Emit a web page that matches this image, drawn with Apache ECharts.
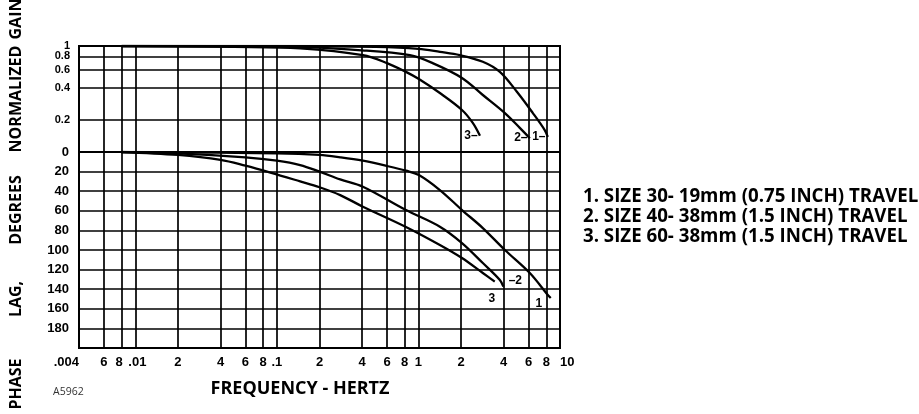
<!DOCTYPE html>
<html><head><meta charset="utf-8">
<script src="https://cdn.jsdelivr.net/npm/echarts@6/dist/echarts.min.js"></script>
<style>html,body{margin:0;padding:0;background:#fff}#c{width:919px;height:414px}</style>
</head><body><div id="c"></div>
<script>
// ---- data ----
const freqTicks = [0.004,0.006,0.008,0.01,0.02,0.04,0.06,0.08,0.1,0.2,0.4,0.6,0.8,1,2,4,6,8,10];
const freqTickLabels = ['.004','6','8','.01','2','4','6','8','.1','2','4','6','8','1','2','4','6','8','10'];
const gainTicks = [0.2,0.4,0.6,0.8,1];
const gainTickLabels = ['0.2','0.4','0.6','0.8','1'];
const phaseTicks = [0,20,40,60,80,100,120,140,160,180];

const gain1 = [[0.008,1],[0.1,1],[0.5,0.98],[1.0,0.94],[1.42,0.88],[1.96,0.82],[2.85,0.71],[3.76,0.57],[4.96,0.37],[6.43,0.233],[7.8,0.161],[8.2,0.139]];
const gain2 = [[0.008,1],[0.1,0.99],[0.4,0.91],[0.87,0.82],[1.26,0.69],[2.03,0.5],[2.85,0.345],[4.08,0.233],[5.2,0.169],[6.12,0.135]];
const gain3 = [[0.008,1],[0.05,0.98],[0.146,0.95],[0.405,0.82],[0.6,0.69],[0.816,0.57],[1.007,0.488],[1.417,0.36],[2.03,0.249],[2.42,0.188],[2.72,0.142]];

const phase1 = [[0.008,0],[0.1,1.4],[0.2,3],[0.28,5.4],[0.405,8.9],[0.6,14.3],[0.816,19.1],[1.007,23.5],[1.417,38.8],[2.03,59.2],[2.85,77.6],[4.08,100],[6.12,123.5],[8.2,145.9],[8.6,149]];
const phase2 = [[0.008,0],[0.02,1.4],[0.06,5.4],[0.1,8.8],[0.146,13.3],[0.2,20],[0.28,28],[0.405,35.4],[0.816,59.2],[1.417,76.2],[2.03,92.9],[2.85,113.3],[3.76,130.6],[3.98,137.4]];
const phase3 = [[0.008,0],[0.02,3],[0.04,8],[0.06,14],[0.09,21],[0.146,30],[0.2,36],[0.28,44],[0.405,55.8],[0.816,76.5],[1.417,94.9],[2.03,108.2],[2.85,123.5],[3.46,132.3]];

const legendLines = ['1. SIZE 30- 19mm (0.75 INCH) TRAVEL','2. SIZE 40- 38mm (1.5 INCH) TRAVEL','3. SIZE 60- 38mm (1.5 INCH) TRAVEL'];
const xTitle = 'FREQUENCY - HERTZ';
const yTitleWords = ['PHASE','LAG,','DEGREES','NORMALIZED','GAIN'];
const figId = 'A5962';

// ---- helpers ----
function lookupIdx(v, ticks) {
  for (let i = 0; i < ticks.length; i++) if (Math.abs(v - ticks[i]) <= Math.abs(ticks[i]) * 1e-6 + 1e-12) return i;
  return -1;
}
const BLK = '#000';
const gridLine = {show: true, lineStyle: {color: BLK, width: 1.7}};
const tickFont = {fontFamily: 'Liberation Sans', fontWeight: 'bold', color: BLK};

function withEnd(data, text, offset) {
  return data.map((d, i) => i === data.length - 1
    ? {value: d, label: {show: true, formatter: text, position: 'inside', offset: offset, align: 'center', verticalAlign: 'middle', fontFamily: 'Liberation Sans', fontWeight: 'bold', fontSize: 12, color: BLK}}
    : {value: d});
}
function curve(data, xi, yi, text, offset) {
  return {type: 'line', xAxisIndex: xi, yAxisIndex: yi, data: withEnd(data, text, offset),
    smooth: 0.35, symbol: 'circle', symbolSize: 0, showSymbol: true, showAllSymbol: true,
    lineStyle: {color: BLK, width: 2.3}, itemStyle: {color: BLK}, label: {show: false}, z: 5};
}
function freqFmt(v) {
  const i = lookupIdx(v, freqTicks);
  if (i < 0) return '';
  const t = freqTickLabels[i];
  if (i === 2) return '{l|' + t + '}';
  if (i === 3) return '{r|' + t + '}';
  return t;
}
function gainFmt(v) { const i = lookupIdx(v, gainTicks); return i < 0 ? '' : gainTickLabels[i]; }
// gain labels sit very close together; split over two coincident axes so none are dropped
const gainLabelsA = gainTicks.filter((_, i) => i % 2 === 0);
const gainLabelsB = gainTicks.filter((_, i) => i % 2 === 1);
function gainAxis(labels, drawGrid) {
  return {type: 'log', logBase: 10, gridIndex: 0, min: 0.1, max: 1, position: 'left', offset: 0,
    axisLine: {show: false, onZero: false}, axisTick: {show: false, customValues: drawGrid ? gainTicks : labels},
    axisLabel: Object.assign({show: true, customValues: labels, fontSize: 11, margin: 9, showMaxLabel: true, showMinLabel: true, formatter: gainFmt}, tickFont),
    splitLine: drawGrid ? gridLine : {show: false}, minorSplitLine: {show: false}};
}

const chart = echarts.init(document.getElementById('c'), null, {renderer: 'canvas'});
const yTitlePos = [384, 299, 210, 99, 19];
chart.setOption({
  animation: false,
  backgroundColor: '#fff',
  grid: [
    {left: 79, top: 46, width: 481, height: 106, show: true, borderColor: BLK, borderWidth: 2, backgroundColor: 'transparent', containLabel: false},
    {left: 79, top: 152, width: 481, height: 196, show: true, borderColor: BLK, borderWidth: 2, backgroundColor: 'transparent', containLabel: false}
  ],
  xAxis: [
    {type: 'log', logBase: 10, gridIndex: 0, min: 0.004, max: 10,
     axisLine: {show: false}, axisTick: {show: false, customValues: freqTicks}, axisLabel: {show: false}, splitLine: gridLine, minorSplitLine: {show: false}},
    {type: 'log', logBase: 10, gridIndex: 1, min: 0.004, max: 10,
     axisLine: {show: false}, axisTick: {show: false, customValues: freqTicks},
     axisLabel: Object.assign({show: true, customValues: freqTicks, fontSize: 13, margin: 8, alignMinLabel: 'right', alignMaxLabel: 'left',
       showMinLabel: true, showMaxLabel: true, formatter: freqFmt,
       rich: {l: Object.assign({fontSize: 13, padding: [0, 5, 0, 0]}, tickFont), r: Object.assign({fontSize: 13, padding: [0, 0, 0, 4]}, tickFont)}}, tickFont),
     splitLine: gridLine, minorSplitLine: {show: false}}
  ],
  yAxis: [
    gainAxis(gainLabelsA, true),
    {type: 'value', gridIndex: 1, min: 0, max: 200, interval: 20, inverse: true, position: 'left',
     axisLine: {show: false}, axisTick: {show: false, customValues: phaseTicks},
     axisLabel: Object.assign({show: true, customValues: phaseTicks, fontSize: 13, margin: 10, showMinLabel: true}, tickFont),
     splitLine: gridLine},
    gainAxis(gainLabelsB, false)
  ],
  series: [
    curve(gain1, 0, 0, '1\u2013', [-9, 0]),
    curve(gain2, 0, 0, '2\u2013', [-9, 0]),
    curve(gain3, 0, 0, '3\u2013', [-9, 0]),
    curve(phase1, 1, 1, '1', [-12, 6]),
    curve(phase2, 1, 1, '\u20132', [12, -6]),
    curve(phase3, 1, 1, '3', [-3, 17])
  ],
  graphic: [
    {type: 'text', left: 583, top: 187, style: {text: legendLines.join('\n'), font: 'bold 18.7px "Open Sans"', lineHeight: 20, fill: BLK}},
    {type: 'text', x: 300, y: 389, style: {text: xTitle, font: 'bold 18px "Open Sans"', fill: BLK, textAlign: 'center', textVerticalAlign: 'middle'}},
    {type: 'text', x: 53, y: 392, style: {text: figId, font: '10.5px "Open Sans"', fill: '#333', textAlign: 'left', textVerticalAlign: 'middle'}}
  ].concat(yTitleWords.map((w, i) => ({type: 'text', x: 16, y: yTitlePos[i], rotation: Math.PI / 2,
    style: {text: w, font: 'bold 16px "Open Sans"', fill: BLK, textAlign: 'center', textVerticalAlign: 'middle'}})))
});
</script></body></html>
